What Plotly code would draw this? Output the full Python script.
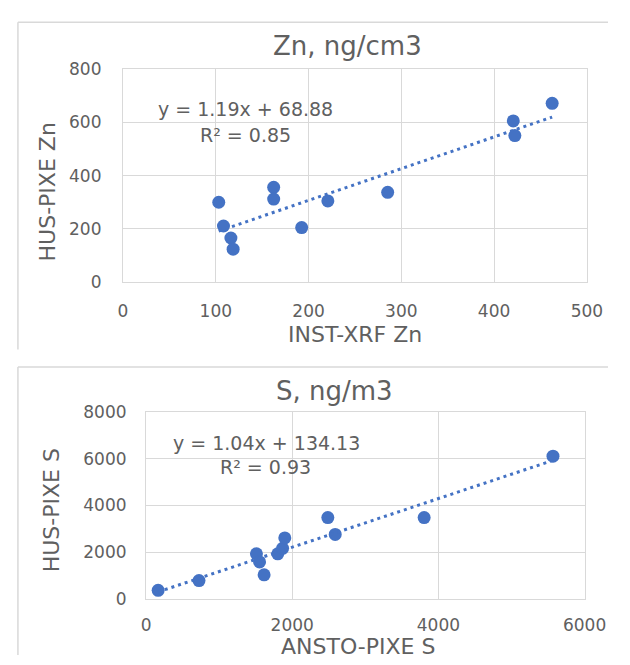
import plotly.graph_objects as go

# Zn comparison (ng/cm3)
zn_xrf = [103.2, 108.3, 116.3, 118.7, 162.4, 162.4, 192.6, 220.8, 285.3, 420.7, 422.4, 462.6]
zn_pixe = [300, 211, 166, 124, 356, 312, 205, 305, 337, 605, 550, 671]
zn_slope, zn_icpt, zn_r2 = 1.19, 68.88, 0.85

# S comparison (ng/m3)
s_ansto = [165, 724, 1510, 1553, 1615, 1802, 1868, 1898, 2487, 2588, 3805, 5568]
s_pixe = [373, 788, 1932, 1588, 1036, 1932, 2168, 2611, 3482, 2761, 3482, 6106]
s_slope, s_icpt, s_r2 = 1.04, 134.13, 0.93

W, H = 630, 665
BLUE = "#4472C4"
GRID = "#d9d9d9"
TXT = "#606060"
FONT = "DejaVu Sans"


def px(x):
    return x / W


def py(y):
    return 1 - y / H


fig = go.Figure()


def add_panel(xs, ys, slope, icpt, xa, ya):
    fig.add_trace(go.Scatter(
        x=xs, y=ys, mode="markers", xaxis=xa, yaxis=ya,
        marker=dict(color=BLUE, size=13, line=dict(width=0)),
        showlegend=False, hoverinfo="x+y"))
    x0, x1 = min(xs), max(xs)
    fig.add_trace(go.Scatter(
        x=[x0, x1], y=[slope * x0 + icpt, slope * x1 + icpt],
        mode="lines", xaxis=xa, yaxis=ya,
        line=dict(color=BLUE, width=3, dash="3px,4px"),
        showlegend=False, hoverinfo="skip"))


add_panel(zn_xrf, zn_pixe, zn_slope, zn_icpt, "x", "y")
add_panel(s_ansto, s_pixe, s_slope, s_icpt, "x2", "y2")

axis_common = dict(
    showgrid=True, gridcolor=GRID, gridwidth=1.3,
    showline=True, linecolor=GRID, linewidth=1.3, mirror=True,
    zeroline=False, ticks="",
    tickfont=dict(family=FONT, size=17, color=TXT),
    fixedrange=True,
)

fig.update_layout(
    width=W, height=H,
    margin=dict(l=0, r=0, t=0, b=0),
    paper_bgcolor="white", plot_bgcolor="white",
    xaxis=dict(domain=[px(123.3), px(607.9)], range=[0, 500], dtick=100,
               anchor="y", ticklabelstandoff=13, **axis_common),
    yaxis=dict(domain=[py(280.7), py(60.7)], range=[0, 800], dtick=200,
               anchor="x", ticklabelstandoff=17, **axis_common),
    xaxis2=dict(domain=[px(147.4), px(605.5)], range=[0, 6000], dtick=2000,
                anchor="y2", ticklabelstandoff=10, **axis_common),
    yaxis2=dict(domain=[py(607.3), py(414.3)], range=[0, 8000], dtick=2000,
                anchor="x2", ticklabelstandoff=15, **axis_common),
)


def label(text, x, y, size, angle=0):
    fig.add_annotation(
        text=text, x=px(x), y=py(y), xref="paper", yref="paper",
        xanchor="center", yanchor="middle", showarrow=False, textangle=angle,
        font=dict(family=FONT, size=size, color=TXT))


# Zn panel texts
label("Zn, ng/cm3", 357.6, 37, 26)
label("INST-XRF Zn", 366, 335, 22)
label("HUS-PIXE Zn", 44, 188, 22, angle=-90)
label(f"y = {zn_slope:.2f}x + {zn_icpt:.2f}", 251.7, 101.7, 19)
label(f"R² = {zn_r2:.2f}", 250.9, 129.3, 19)

# S panel texts
label("S, ng/m3", 344, 393.3, 26)
label("ANSTO-PIXE S", 368.8, 656, 22)
label("HUS-PIXE S", 48.2, 515.7, 22, angle=-90)
label(f"y = {s_slope:.2f}x + {s_icpt:.2f}", 273.2, 446.7, 19)
label(f"R² = {s_r2:.2f}", 272.6, 471, 19)

# chart-area frames
frame = dict(type="line", xref="paper", yref="paper",
             line=dict(color=GRID, width=1.5))
fig.add_shape(x0=px(13.5), x1=1, y0=py(12.7), y1=py(12.7), **frame)
fig.add_shape(x0=px(13.5), x1=px(13.5), y0=py(12.7), y1=py(350), **frame)
fig.add_shape(x0=px(13.5), x1=1, y0=py(368), y1=py(368), **frame)
fig.add_shape(x0=px(13.5), x1=px(13.5), y0=py(368), y1=0, **frame)

fig.write_html("out.html")
